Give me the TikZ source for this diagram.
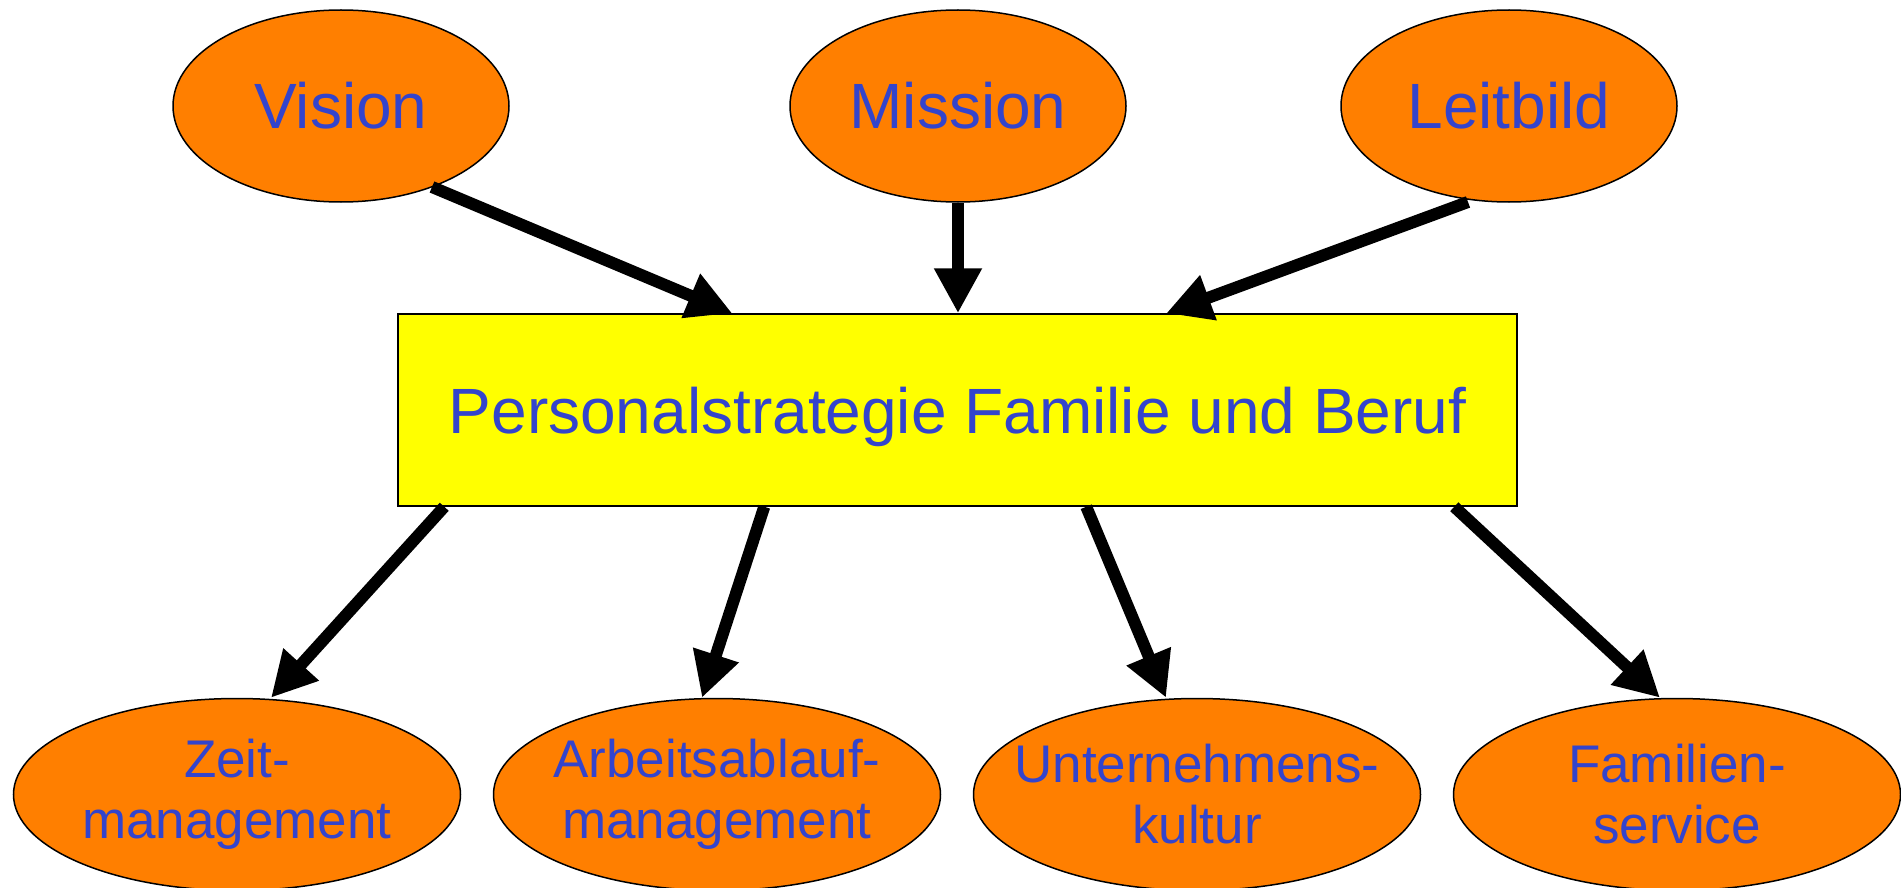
\documentclass[tikz,border=0pt]{standalone}
\usepackage{fontspec}
\setmainfont{Liberation Sans}
\usetikzlibrary{shapes.geometric,arrows.meta,calc}
\definecolor{orng}{RGB}{255,127,0}
\definecolor{txtblue}{RGB}{51,68,204}
\definecolor{yel}{RGB}{255,255,0}
\begin{document}
\begin{tikzpicture}[x=1pt,y=-1pt,
  topell/.style={ellipse,draw=black,line width=1.5pt,fill=orng,minimum width=336pt,minimum height=192pt,inner sep=0pt,text=txtblue,font=\fontsize{64}{74}\selectfont,text height=46pt,text depth=0pt},
  botell/.style={ellipse,draw=black,line width=1.5pt,fill=orng,minimum width=447pt,minimum height=192pt,inner xsep=-60pt,inner ysep=0pt,text=txtblue,font=\fontsize{53}{61}\selectfont,align=center},
  mainbox/.style={rectangle,draw=black,line width=1.5pt,fill=yel,minimum width=1119pt,minimum height=192pt,inner sep=0pt,text=txtblue,font=\fontsize{64}{74}\selectfont,text height=46pt,text depth=0pt},
  arr/.style={line width=12pt,-{Triangle[length=45pt,width=45pt]}}]
\useasboundingbox (0,0) rectangle (1901,888);
\node[topell] (vision) at (341,106) {Vision};
\node[topell] (mission) at (958,106) {Mission};
\node[topell] (leitbild) at (1509,106) {Leitbild};
\node[mainbox] (strat) at (957.5,410) {Personalstrategie Familie und Beruf};
\node[botell] (zeit) at (237,794.5) {Zeit-\\management};
\node[botell] (ablauf) at (717,794.5) {Arbeitsablauf-\\management};
\node[botell] (kultur) at (1197,794.5) {Unternehmens-\\kultur};
\node[botell] (service) at (1677,794.5) {Familien-\\service};
\draw[arr] ($(vision.center)+(91,81)$) -- ($(strat.north west)+(335,0)$);
\draw[arr] (mission.south) -- (mission.south |- strat.north);
\draw[arr] ($(leitbild.center)+(-41,96)$) -- ($(strat.north west)+(769,0)$);
\draw[arr] ($(strat.south west)+(47,0)$) -- ($(zeit.north)+(34,0)$);
\draw[arr] ($(strat.south west)+(367,0)$) -- ($(ablauf.north)+(-15,0)$);
\draw[arr] ($(strat.south west)+(689,0)$) -- ($(kultur.north)+(-31,0)$);
\draw[arr] ($(strat.south west)+(1057,0)$) -- ($(service.north)+(-17,0)$);
\end{tikzpicture}
\end{document}
